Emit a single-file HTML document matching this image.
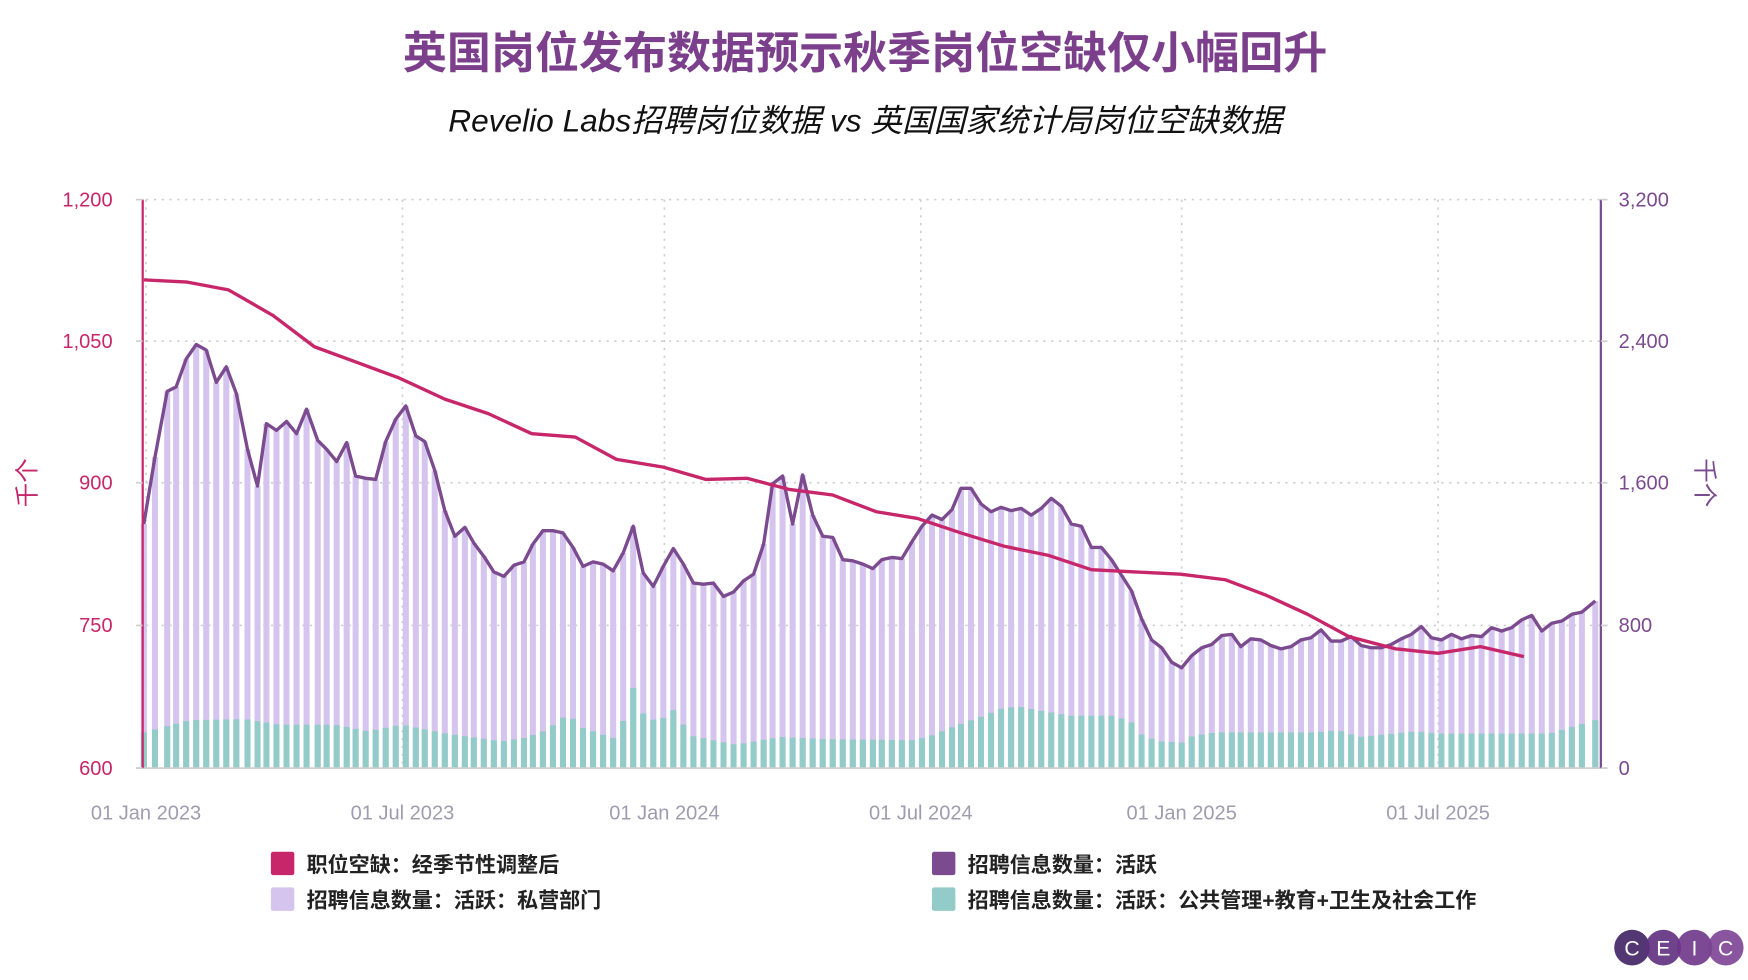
<!DOCTYPE html>
<html><head><meta charset="utf-8"><style>
html,body{margin:0;padding:0;background:#fff;}
svg{display:block;font-family:"Liberation Sans","Noto Sans CJK SC",sans-serif;}
</style></head><body>
<svg id="s" width="1748" height="980" viewBox="0 0 1568 879" xmlns="http://www.w3.org/2000/svg">
<text x="776" y="61" text-anchor="middle" font-size="39.5" font-weight="bold" fill="#7b3f8c">英国岗位发布数据预示秋季岗位空缺仅小幅回升</text>
<text x="776" y="118" text-anchor="middle" font-size="28.4" font-style="italic" fill="#111">Revelio Labs招聘岗位数据 vs 英国国家统计局岗位空缺数据</text>
<g id="grid" stroke="#cfcfcf" stroke-width="1.5" stroke-dasharray="2,5"></g>
<g id="bars"></g>
<g id="lines"></g>
<g id="axes"></g>
<g font-size="18.9" font-weight="bold" fill="#222">
<rect x="243" y="764" width="21" height="21" rx="2" fill="#c8266a"/><text x="275" y="782">职位空缺：经季节性调整后</text>
<rect x="243" y="796" width="21" height="21" rx="2" fill="#d4c4ee"/><text x="275" y="814">招聘信息数量：活跃：私营部门</text>
<rect x="836" y="764" width="21" height="21" rx="2" fill="#7b4a8f"/><text x="868" y="782">招聘信息数量：活跃</text>
<rect x="836" y="796" width="21" height="21" rx="2" fill="#93cbc8"/><text x="868" y="814">招聘信息数量：活跃：公共管理+教育+卫生及社会工作</text>
</g>
<g font-size="19" fill="#fff">
<circle cx="1464" cy="850" r="16" fill="#4a2c6a" opacity="0.95"/>
<circle cx="1492" cy="850" r="16" fill="#5e2f7e" opacity="0.9"/>
<circle cx="1520" cy="850" r="16" fill="#6e3589" opacity="0.9"/>
<circle cx="1548" cy="850" r="16" fill="#7b4394" opacity="0.9"/>
<text x="1464" y="857" text-anchor="middle">C</text><text x="1492" y="857" text-anchor="middle">E</text><text x="1520" y="857" text-anchor="middle">I</text><text x="1548" y="857" text-anchor="middle">C</text>
</g>
</svg>
<script>
var NS="http://www.w3.org/2000/svg";
function el(p,t,a,txt){var e=document.createElementNS(NS,t);for(var k in a)e.setAttribute(k,a[k]);if(txt!==undefined)e.textContent=txt;document.getElementById(p).appendChild(e);return e;}
var Y0=689;
[179,306,433,561].forEach(function(y){el("grid","line",{x1:131,x2:1436,y1:y,y2:y});});
[131,361,596,826,1060,1290].forEach(function(x){el("grid","line",{x1:x,x2:x,y1:179,y2:689});});
var pl=[[129,470],[139,410],[150,351],[158,347],[167,322],[176,309],[185,314],[194,343],[203,329],[212,353],[222,403],[231,436],[239,380],[248,386],[257,378],[266,389],[275,367],[285,395],[293,403],[302,414],[311,397],[319,427],[328,429],[337,430],[346,396],[355,376],[364,364],[373,391],[381,396],[390,422],[399,458],[408,481],[417,473],[425,487],[434,499],[443,513],[452,517],[461,507],[470,504],[478,488],[487,476],[496,476],[505,478],[514,491],[523,508],[532,504],[541,506],[550,512],[559,496],[568,472],[577,514],[586,526],[595,508],[604,492],[613,506],[622,523],[631,524],[640,523],[649,535],[658,531],[667,521],[676,515],[685,488],[693,434],[702,427],[711,470],[720,426],[729,462],[738,481],[747,482],[756,502],[765,503],[774,506],[783,510],[791,502],[800,500],[809,501],[818,486],[827,472],[836,462],[845,466],[854,457],[862,438],[871,438],[880,452],[889,459],[898,455],[907,458],[916,456],[925,462],[934,456],[943,447],[952,454],[961,470],[970,472],[979,491],[988,491],[997,502],[1006,516],[1015,530],[1024,555],[1033,574],[1042,581],[1051,594],[1060,599],[1069,588],[1078,581],[1087,578],[1096,570],[1105,569],[1113,580],[1122,573],[1131,574],[1140,579],[1149,582],[1158,580],[1167,574],[1176,572],[1185,565],[1194,575],[1203,575],[1212,571],[1221,579],[1230,581],[1239,581],[1248,578],[1257,573],[1266,569],[1275,562],[1284,572],[1293,574],[1302,569],[1311,573],[1320,570],[1329,571],[1338,563],[1347,566],[1356,563],[1365,556],[1374,552],[1383,566],[1392,559],[1401,557],[1410,551],[1419,549],[1431,539]];
var tk=[[129,657],[170,646],[220,645],[250,650],[300,650],[330,656],[360,650],[400,658],[450,665],[470,662],[490,655],[510,640],[520,652],[550,662],[560,645],[568,617],[577,640],[590,648],[604,637],[620,660],[660,668],[700,661],[740,663],[820,664],[835,660],[860,650],[880,643],[900,635],[915,634],[930,637],[960,642],[1000,642],[1015,648],[1025,660],[1040,665],[1060,666],[1070,660],[1090,657],[1180,657],[1200,655],[1220,661],[1270,656],[1290,658],[1390,658],[1410,652],[1431,646]];
function interp(x){for(var i=0;i<tk.length-1;i++){if(x>=tk[i][0]&&x<=tk[i+1][0]){var t=(x-tk[i][0])/(tk[i+1][0]-tk[i][0]);return tk[i][1]+t*(tk[i+1][1]-tk[i][1]);}}return tk[tk.length-1][1];}
pl.forEach(function(p){var x=p[0],w=5.4;var ty=interp(x);
el("bars","rect",{x:x-w/2,y:p[1],width:w,height:Y0-p[1],fill:"#d4c4ee"});
el("bars","rect",{x:x-w/2,y:ty,width:w,height:Y0-ty,fill:"#93cbc8"});});
el("lines","polyline",{points:pl.map(function(p){return p.join(",")}).join(" "),fill:"none",stroke:"#7b4a8f","stroke-width":3,"stroke-linejoin":"round"});
var vl=[[129,251],[168,253],[205,260],[245,283],[282,311],[320,325],[358,339],[399,358],[438,371],[477,389],[516,392],[553,412],[595,419],[633,430],[670,429],[708,439],[747,444],[786,459],[823,465],[862,478],[901,490],[940,498],[979,511],[1018,513],[1059,515],[1099,520],[1136,534],[1173,551],[1210,571],[1252,582],[1290,586],[1328,580],[1367,589]];
el("lines","polyline",{points:vl.map(function(p){return p.join(",")}).join(" "),fill:"none",stroke:"#c8266a","stroke-width":3,"stroke-linejoin":"round"});
el("axes","line",{x1:122,x2:1442,y1:689,y2:689,stroke:"#cfcfcf","stroke-width":1.5});
el("axes","line",{x1:128,x2:128,y1:179,y2:689,stroke:"#c8266a","stroke-width":2});
el("axes","line",{x1:1436,x2:1436,y1:179,y2:689,stroke:"#7b4a8f","stroke-width":2});
var L=["1,200","1,050","900","750","600"],R=["3,200","2,400","1,600","800","0"];
[179,306,433,561,689].forEach(function(y,i){
el("axes","line",{x1:122,x2:128,y1:y,y2:y,stroke:"#cfcfcf","stroke-width":1.5});
el("axes","line",{x1:1436,x2:1442,y1:y,y2:y,stroke:"#cfcfcf","stroke-width":1.5});
el("axes","text",{x:101,y:y+6,"text-anchor":"end","font-size":18,fill:"#c8266a"},L[i]);
el("axes","text",{x:1452,y:y+6,"font-size":18,fill:"#7b4a8f"},R[i]);});
el("axes","text",{x:0,y:0,"font-size":22,fill:"#c8266a","text-anchor":"middle",transform:"translate(32,433) rotate(-90)"},"千个");
el("axes","text",{x:0,y:0,"font-size":22,fill:"#7b4a8f","text-anchor":"middle",transform:"translate(1522,433) rotate(90)"},"千个");
[[131,"01 Jan 2023"],[361,"01 Jul 2023"],[596,"01 Jan 2024"],[826,"01 Jul 2024"],[1060,"01 Jan 2025"],[1290,"01 Jul 2025"]].forEach(function(a){
el("axes","text",{x:a[0],y:735,"text-anchor":"middle","font-size":18,fill:"#a09cb0"},a[1]);});
</script>
</body></html>
